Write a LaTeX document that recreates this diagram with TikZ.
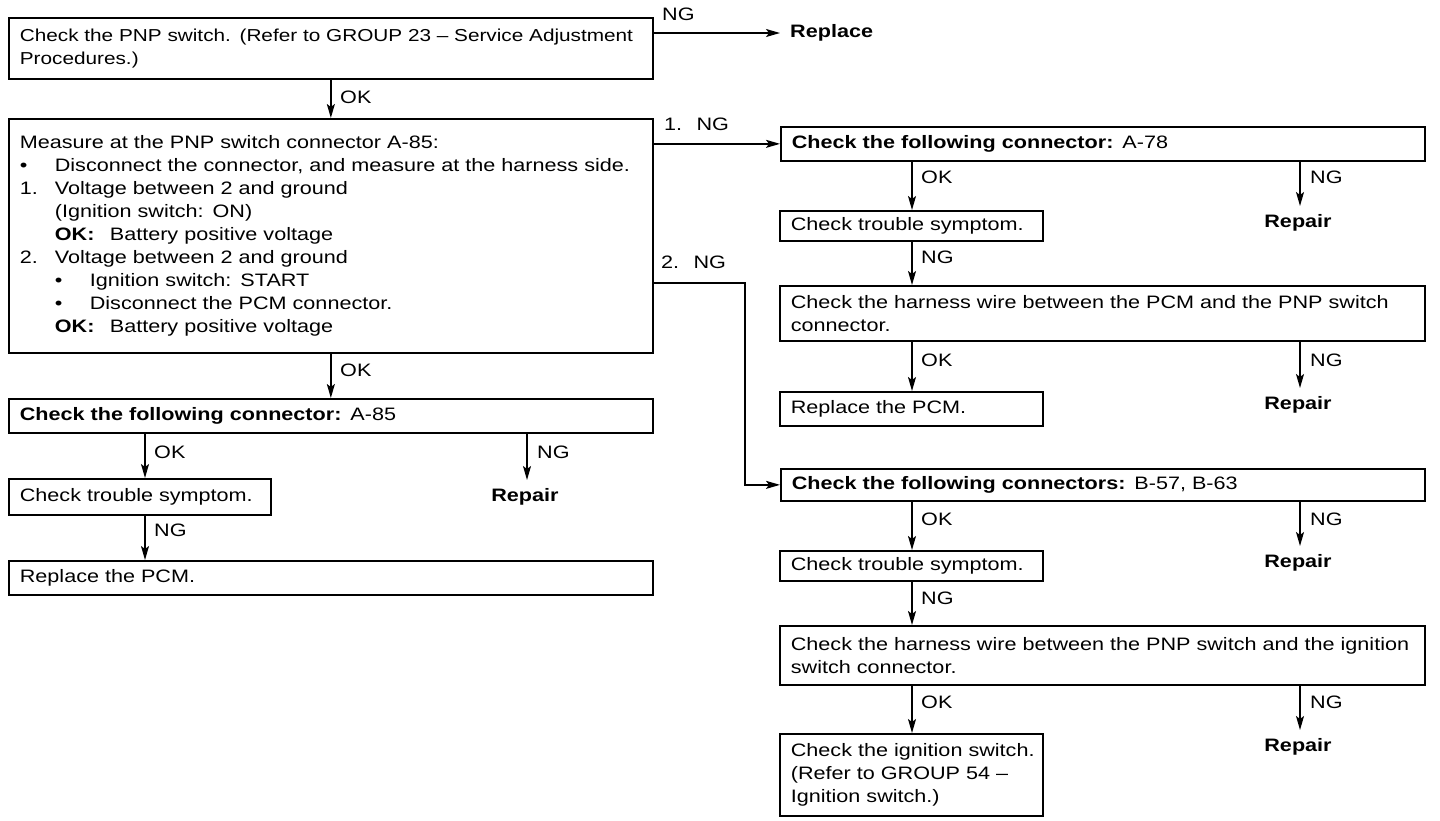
\documentclass[tikz,border=0pt]{standalone}
\usepackage{fontspec}
\setmainfont{Liberation Sans}[FakeStretch=1.2]
\usetikzlibrary{arrows.meta}
\begin{document}
\begin{tikzpicture}[x=1pt,y=-1pt,
  every node/.style={font=\fontsize{18}{23}\selectfont},
  box/.style={draw,line width=1.7pt,anchor=north west,align=left,inner xsep=11pt,inner ysep=0pt},
  lbl/.style={anchor=west,inner sep=0pt},
  blbl/.style={anchor=west,inner sep=0pt,font=\fontsize{18}{23}\selectfont\bfseries},
  arr/.style={line width=1.5pt,-{Stealth[length=14pt,width=8pt,inset=3pt]}},
  ln/.style={line width=1.5pt}]
\useasboundingbox (0,0) rectangle (1440,820);
% left column
\node[box,minimum width=644pt,minimum height=61pt,text width=622pt,font=\fontsize{17.3}{23}\selectfont] (b1) at (8,17)
 {\mbox{Check the PNP switch. (Refer to GROUP 23 -- Service Adjustment}\\Procedures.)};
\node[blbl] (rep) at (790,33) {Replace};
\node[lbl] (ng0) at (662,14) {NG};
\node[box,minimum width=644pt,minimum height=234pt,text width=622pt] (b2) at (8,118)
 {Measure at the PNP switch connector A-85:\\
 \mbox{\makebox[35pt][l]{•}Disconnect the connector, and measure at the harness side.}\\
 \makebox[35pt][l]{1.}Voltage between 2 and ground\\
 \hspace*{35pt}(Ignition switch: ON)\\
 \hspace*{35pt}\makebox[55pt][l]{\textbf{OK:}}Battery positive voltage\\
 \makebox[35pt][l]{2.}Voltage between 2 and ground\\
 \hspace*{35pt}\makebox[35pt][l]{•}Ignition switch: START\\
 \hspace*{35pt}\makebox[35pt][l]{•}Disconnect the PCM connector.\\
 \hspace*{35pt}\makebox[55pt][l]{\textbf{OK:}}Battery positive voltage};
\node[box,minimum width=644pt,minimum height=34pt,text width=622pt] (b11) at (8,398)
 {\textbf{Check the following connector:} A-85};
\node[box,minimum width=262pt,minimum height=36pt,text width=240pt] (b12) at (8,478)
 {\mbox{Check trouble symptom.}};
\node[box,minimum width=644pt,minimum height=34pt,text width=622pt] (b13) at (8,560)
 {Replace the PCM.};
\node[blbl,anchor=north] (r0) at (525,488) {Repair};
% right column
\node[box,minimum width=644pt,minimum height=34pt,text width=622pt] (b3) at (780,126)
 {\textbf{Check the following connector:} A-78};
\node[box,minimum width=263pt,minimum height=30pt,text width=241pt] (b4) at (779,210)
 {\mbox{Check trouble symptom.}};
\node[box,minimum width=645pt,minimum height=55pt,text width=623pt] (b5) at (779,285)
 {\mbox{Check the harness wire between the PCM and the PNP switch}\\connector.};
\node[box,minimum width=263pt,minimum height=34pt,text width=241pt] (b6) at (779,391)
 {Replace the PCM.};
\node[box,minimum width=644pt,minimum height=32pt,text width=622pt] (b7) at (780,468)
 {\textbf{Check the following connectors:} B-57, B-63};
\node[box,minimum width=263pt,minimum height=30pt,text width=241pt] (b8) at (779,550)
 {\mbox{Check trouble symptom.}};
\node[box,minimum width=645pt,minimum height=59pt,text width=623pt] (b9) at (779,625)
 {\mbox{Check the harness wire between the PNP switch and the ignition}\\switch connector.};
\node[box,minimum width=263pt,minimum height=82pt,text width=241pt] (b10) at (779,733)
 {\mbox{Check the ignition switch.}\\\mbox{(Refer to GROUP 54 --}\\Ignition switch.)};
\node[blbl,anchor=north] (r1) at (1298,214) {Repair};
\node[blbl,anchor=north] (r2) at (1298,396) {Repair};
\node[blbl,anchor=north] (r3) at (1298,554) {Repair};
\node[blbl,anchor=north] (r4) at (1298,738) {Repair};
% labels
\node[lbl] at (340,97) {OK};
\node[lbl] at (340,370) {OK};
\node[lbl] at (664,124) {1.\hspace{0.8em}NG};
\node[lbl] at (661,262) {2.\hspace{0.8em}NG};
\node[lbl] at (154,452) {OK};
\node[lbl] at (537,452) {NG};
\node[lbl] at (154,530) {NG};
\foreach \y/\a/\b in {177/OK/NG,360/OK/NG,519/OK/NG,702/OK/NG}{
  \node[lbl] at (921,\y) {\a};
  \node[lbl] at (1310,\y) {\b};}
\node[lbl] at (921,257) {NG};
\node[lbl] at (921,598) {NG};
% connectors
\draw[arr] (b1.east |- rep.west) -- ([xshift=-10pt]rep.west);
\draw[arr] (b1.south) -- (b2.north);
\draw[arr] (b2.south) -- (b11.north);
\draw[arr] (b11.south -| 145,0) -- (b12.north -| 145,0);
\draw[arr] (b12.south -| 145,0) -- (b13.north -| 145,0);
\draw[arr] (b11.south -| 527,0) -- ([yshift=8pt]r0.north -| 527,0);
\draw[arr] (b2.east |- b3.west) -- (b3.west);
\coordinate (c2) at (745,283);
\draw[arr] (b2.east |- c2) -- (c2) |- (b7.west);
\foreach \u/\v in {b3/b4,b4/b5,b5/b6,b7/b8,b8/b9,b9/b10}{
  \draw[arr] (\u.south -| 912,0) -- (\v.north -| 912,0);}
\draw[arr] (b3.south -| 1300,0) -- ([yshift=8pt]r1.north -| 1300,0);
\draw[arr] (b5.south -| 1300,0) -- ([yshift=8pt]r2.north -| 1300,0);
\draw[arr] (b7.south -| 1300,0) -- ([yshift=8pt]r3.north -| 1300,0);
\draw[arr] (b9.south -| 1300,0) -- ([yshift=8pt]r4.north -| 1300,0);
\end{tikzpicture}
\end{document}
